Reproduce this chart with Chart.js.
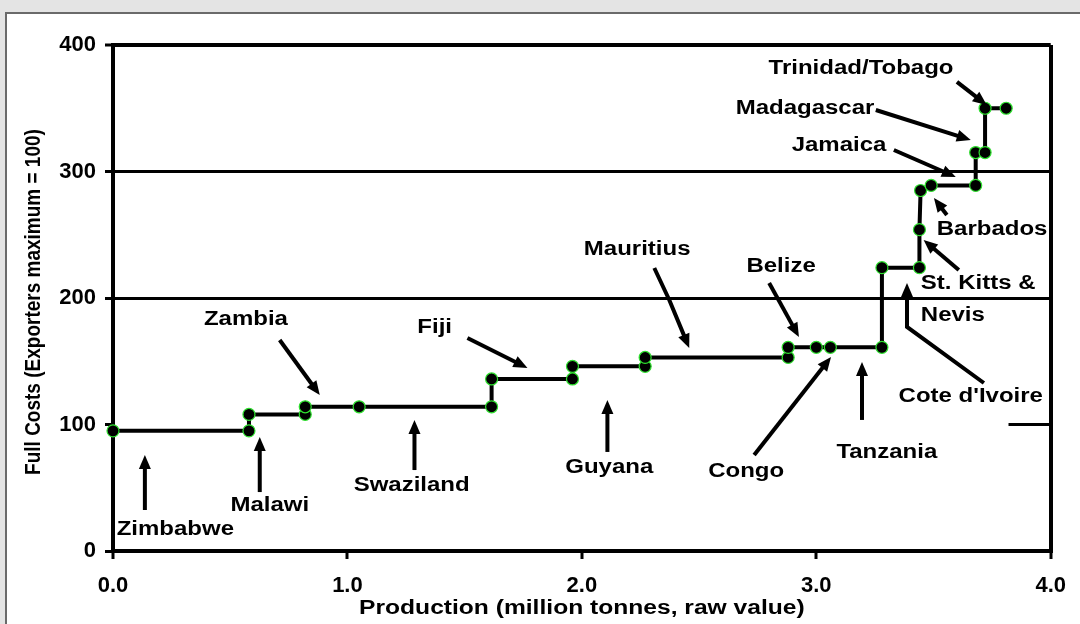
<!DOCTYPE html>
<html>
<head>
<meta charset="utf-8">
<script src="https://cdn.jsdelivr.net/npm/chart.js@4/dist/chart.umd.min.js"></script>
<style>
  html, body { margin: 0; padding: 0; background: #e4e4e4; }
  #frame {
    position: absolute; left: 5px; top: 12px; width: 1080px; height: 620px;
    background: #fff; border-left: 2px solid #6a6a6a; border-top: 2px solid #6a6a6a;
  }
  #wrap { position: absolute; left: 0; top: 0; width: 1080px; height: 624px; }
</style>
</head>
<body>
<div id="frame"></div>
<div id="wrap"><canvas id="chart" width="1080" height="624"></canvas></div>
<script>
// step curve vertices (million tonnes, full cost index)
const production = [0.0, 0.58, 0.58, 0.82, 0.82, 1.05, 1.615, 1.615, 1.96, 1.96, 2.27, 2.27, 2.88, 2.88, 3.0, 3.06, 3.28, 3.28, 3.44, 3.44, 3.445, 3.49, 3.68, 3.68, 3.72, 3.72, 3.81];
const fullCost   = [95, 95, 108, 108, 114, 114, 114, 136, 136, 146, 146, 153, 153, 161, 161, 161, 161, 224, 224, 254, 285, 289, 289, 315, 315, 350, 350];

const xTicks = [0, 1, 2, 3, 4];
const yTicks = [0, 100, 200, 300, 400];

// country labels: text, anchor (x, y), alignment
const labelText  = ["Zimbabwe", "Malawi", "Swaziland", "Zambia", "Fiji", "Guyana", "Mauritius", "Belize", "Congo", "Tanzania", "Cote d'Ivoire", "St. Kitts &", "Nevis", "Barbados", "Jamaica", "Madagascar", "Trinidad/Tobago"];
const labelX     = [0.266, 0.669, 1.274, 0.567, 1.372, 2.117, 2.236, 2.850, 2.701, 3.301, 3.659, 3.446, 3.446, 3.514, 3.097, 2.952, 3.191];
const labelY     = [17.4, 35.6, 51.4, 183.4, 176.3, 66.4, 238.7, 225.3, 63.2, 77.5, 122.5, 211.1, 185.8, 253.8, 320.2, 350.2, 381.8];
const labelAlign = ["center", "center", "center", "center", "center", "center", "center", "center", "center", "center", "center", "left", "left", "left", "center", "center", "center"];

// arrows: polylines in data units, head at the last point
const arrows = [
  [[0.136, 32.4], [0.136, 75.9]],
  [[0.626, 46.6], [0.626, 90.1]],
  [[1.286, 64.0], [1.286, 103.6]],
  [[0.711, 166.8], [0.882, 123.3]],
  [[1.512, 168.4], [1.768, 144.7]],
  [[2.109, 78.3], [2.109, 119.4]],
  [[2.309, 223.7], [2.373, 198.4], [2.458, 160.5]],
  [[2.799, 211.9], [2.926, 169.2]],
  [[2.735, 75.9], [3.063, 153.4]],
  [[3.195, 103.6], [3.195, 149.4]],
  [[3.715, 132.8], [3.387, 177.1], [3.387, 211.9]],
  [[3.608, 222.1], [3.458, 245.8]],
  [[3.557, 265.6], [3.502, 279.0]],
  [[3.331, 317.0], [3.595, 295.7]],
  [[3.254, 348.6], [3.659, 324.9]],
  [[3.600, 370.8], [3.727, 352.6]]
];

const SX = 1.2; // text in the original is stretched horizontally
const FAMILY = '"Liberation Sans", Arial, sans-serif';
const FONT = 'bold 20px ' + FAMILY;

function stretchText(ctx, text, x, y, align, sx) {
  ctx.save();
  ctx.translate(x, y);
  ctx.scale(sx || SX, 1);
  ctx.textAlign = align;
  ctx.textBaseline = "middle";
  ctx.fillText(text, 0, 0);
  ctx.restore();
}

const annotations = {
  id: "annotations",
  beforeDatasetsDraw(chart) {
    const ctx = chart.ctx, xs = chart.scales.x, ys = chart.scales.y;
    // leftover piece of the 100 gridline at the right edge
    ctx.save();
    ctx.strokeStyle = "#000";
    ctx.lineWidth = 3;
    ctx.beginPath();
    ctx.moveTo(xs.getPixelForValue(3.82), ys.getPixelForValue(100));
    ctx.lineTo(xs.getPixelForValue(4), ys.getPixelForValue(100));
    ctx.stroke();
    ctx.restore();
  },
  afterDatasetsDraw(chart) {
    const ctx = chart.ctx, xs = chart.scales.x, ys = chart.scales.y;
    const area = chart.chartArea;
    ctx.save();
    ctx.fillStyle = "#000";
    ctx.strokeStyle = "#000";
    ctx.font = FONT;

    // arrows
    arrows.forEach(a => {
      const pts = a.map(p => [xs.getPixelForValue(p[0]), ys.getPixelForValue(p[1])]);
      const n = pts.length;
      const [tx, ty] = pts[n - 1];
      const [px, py] = pts[n - 2];
      const ang = Math.atan2(ty - py, tx - px);
      const headLen = 14, headW = 6;
      ctx.lineWidth = 4;
      ctx.beginPath();
      ctx.moveTo(pts[0][0], pts[0][1]);
      for (let i = 1; i < n - 1; i++) ctx.lineTo(pts[i][0], pts[i][1]);
      ctx.lineTo(tx - Math.cos(ang) * headLen * 0.8, ty - Math.sin(ang) * headLen * 0.8);
      ctx.stroke();
      ctx.beginPath();
      ctx.moveTo(tx, ty);
      ctx.lineTo(tx - Math.cos(ang) * headLen - Math.sin(ang) * headW, ty - Math.sin(ang) * headLen + Math.cos(ang) * headW);
      ctx.lineTo(tx - Math.cos(ang) * headLen + Math.sin(ang) * headW, ty - Math.sin(ang) * headLen - Math.cos(ang) * headW);
      ctx.closePath();
      ctx.fill();
    });

    // country names
    labelText.forEach((t, i) => {
      stretchText(ctx, t, xs.getPixelForValue(labelX[i]), ys.getPixelForValue(labelY[i]), labelAlign[i]);
    });

    // axis titles
    stretchText(ctx, "Production (million tonnes, raw value)", (area.left + area.right) / 2, area.bottom + 57, "center", 1.23);
    ctx.save();
    ctx.font = 'bold 19px ' + FAMILY;
    ctx.translate(34, (area.top + area.bottom) / 2 + 4);
    ctx.scale(SX, 1);
    ctx.rotate(-Math.PI / 2);
    ctx.textAlign = "center";
    ctx.textBaseline = "middle";
    ctx.fillText("Full Costs (Exporters maximum = 100)", 0, 0);
    ctx.restore();

    ctx.restore();
  }
};

const points = production.map((x, i) => ({ x: x, y: fullCost[i] }));

new Chart(document.getElementById("chart"), {
  type: "scatter",
  data: {
    datasets: [{
      data: points,
      showLine: true,
      borderColor: "#000",
      borderWidth: 4,
      pointRadius: 6,
      pointBackgroundColor: "#000",
      pointBorderColor: "#2fe02f",
      pointBorderWidth: 1.2,
      clip: false
    }]
  },
  options: {
    responsive: false,
    animation: false,
    events: [],
    layout: { padding: { top: 45, right: 28, left: 0, bottom: 0 } },
    plugins: { legend: { display: false }, tooltip: { enabled: false } },
    scales: {
      x: {
        type: "linear",
        min: 0, max: 4,
        afterBuildTicks: s => { s.ticks = xTicks.map(v => ({ value: v })); },
        afterFit: s => { s.height = 73; },
        ticks: {
          color: "#000",
          padding: 14,
          font: { family: FAMILY, size: 22, weight: "bold" },
          callback: v => v.toFixed(1)
        },
        grid: {
          drawOnChartArea: true,
          color: c => (c.tick && c.tick.value === 4) ? "#000" : "rgba(0,0,0,0)",
          lineWidth: 4,
          tickColor: "#000",
          tickLength: 8,
          tickWidth: 3
        },
        border: { display: true, color: "#000", width: 4 }
      },
      y: {
        min: 0, max: 400,
        afterBuildTicks: s => { s.ticks = yTicks.map(v => ({ value: v })); },
        afterFit: s => { s.width = 113; },
        ticks: {
          color: "#000",
          padding: 9,
          font: { family: FAMILY, size: 22, weight: "bold" }
        },
        grid: {
          drawOnChartArea: true,
          color: c => (c.tick && c.tick.value >= 200) ? "#000" : "rgba(0,0,0,0)",
          lineWidth: c => (c.tick && c.tick.value === 400) ? 4 : 3,
          tickColor: "#000",
          tickLength: 8,
          tickWidth: 3
        },
        border: { display: true, color: "#000", width: 4 }
      }
    }
  },
  plugins: [annotations]
});
</script>
</body>
</html>
